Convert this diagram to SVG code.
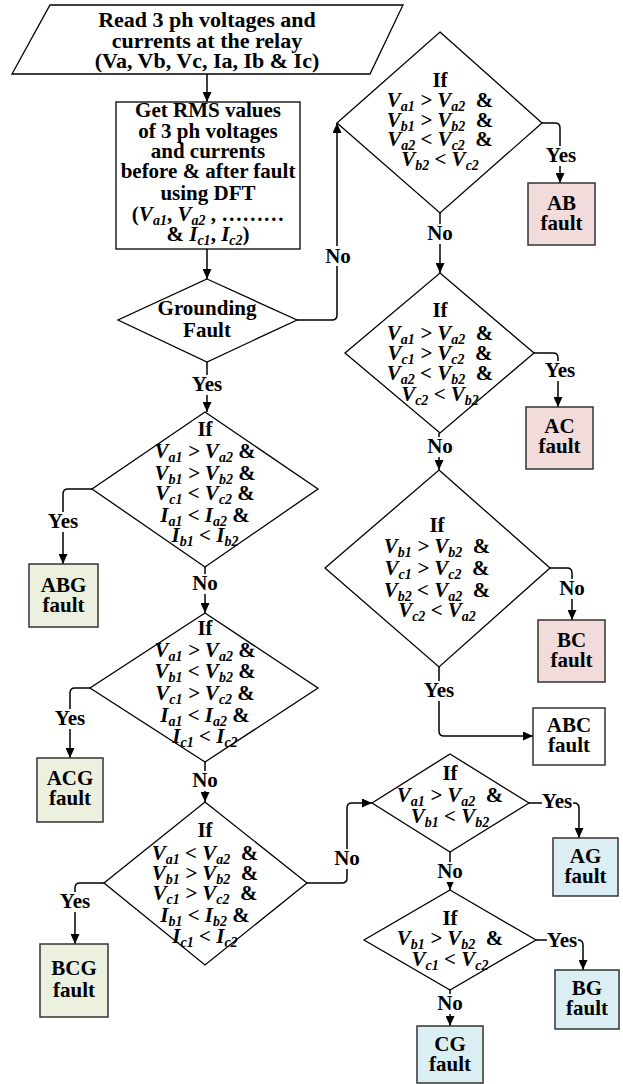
<svg xmlns="http://www.w3.org/2000/svg" width="623" height="1084" viewBox="0 0 623 1084">
<style>
.t{font-family:"Liberation Serif","Times New Roman",serif;font-weight:bold;font-size:21px;text-anchor:middle;fill:#000;white-space:pre}
.p{font-size:22px}
.c{font-style:italic}
.u{font-style:normal}
.s{font-size:14px}
.sh{fill:#fff;stroke:#000;stroke-width:1.3}
.fb{stroke:#333;stroke-width:1.5}
.pk{fill:#f2dcdb}.gr{fill:#ebf1de}.bl{fill:#dbeef4}.wh{fill:#fff}
.ln{fill:none;stroke:#000;stroke-width:1.5}
.lb{fill:#fff}
</style>
<defs>
<marker id="ah" markerUnits="userSpaceOnUse" markerWidth="10" markerHeight="9" refX="10" refY="4.5" orient="auto"><path d="M0,0 L10,4.5 L0,9 z" fill="#000"/></marker>
</defs>
<rect width="623" height="1084" fill="#fff"/>

<g id="connectors">
<path class="ln" marker-end="url(#ah)" d="M207,74 V102"/>
<path class="ln" marker-end="url(#ah)" d="M207,249 V279"/>
<path class="ln" marker-end="url(#ah)" d="M297,320 H332 Q337,320 337,315 V123"/>
<path class="ln" marker-end="url(#ah)" d="M542,123 H555 Q560,123 560,128 V183"/>
<path class="ln" marker-end="url(#ah)" d="M440,213 V273"/>
<path class="ln" marker-end="url(#ah)" d="M534,353 H553 Q558,353 558,358 V407"/>
<path class="ln" marker-end="url(#ah)" d="M439,433 V470"/>
<path class="ln" marker-end="url(#ah)" d="M550,568 H567 Q572,568 572,573 V620"/>
<path class="ln" marker-end="url(#ah)" d="M439,667 V731 Q439,736 444,736 H533"/>
<path class="ln" marker-end="url(#ah)" d="M207,362 V412"/>
<path class="ln" marker-end="url(#ah)" d="M92,489 H68 Q63,489 63,494 V564"/>
<path class="ln" marker-end="url(#ah)" d="M205,567 V613"/>
<path class="ln" marker-end="url(#ah)" d="M90,688 H75 Q70,688 70,693 V758"/>
<path class="ln" marker-end="url(#ah)" d="M205,762 V802"/>
<path class="ln" marker-end="url(#ah)" d="M104,883 H80 Q75,883 75,888 V944"/>
<path class="ln" marker-end="url(#ah)" d="M307,883 H342 Q347,883 347,878 V808 Q347,803 352,803 H372"/>
<path class="ln" marker-end="url(#ah)" d="M529,803 H574 Q579,803 579,808 V838"/>
<path class="ln" marker-end="url(#ah)" d="M450,852 V890"/>
<path class="ln" marker-end="url(#ah)" d="M536,940 H578 Q583,940 583,945 V970"/>
<path class="ln" marker-end="url(#ah)" d="M450,990 V1026"/>
</g>

<g id="labels">
<rect class="lb" x="325" y="246" width="26" height="20"/><text class="t" x="338" y="263">No</text>
<rect class="lb" x="546" y="146" width="30" height="20"/><text class="t" x="561" y="162">Yes</text>
<rect class="lb" x="427" y="224" width="26" height="20"/><text class="t" x="440" y="240">No</text>
<rect class="lb" x="544" y="361" width="30" height="20"/><text class="t" x="560" y="377">Yes</text>
<rect class="lb" x="426" y="437" width="26" height="20"/><text class="t" x="440" y="453">No</text>
<rect class="lb" x="559" y="579" width="26" height="20"/><text class="t" x="572" y="595">No</text>
<rect class="lb" x="424" y="681" width="30" height="20"/><text class="t" x="439" y="697">Yes</text>
<rect class="lb" x="192" y="375" width="30" height="20"/><text class="t" x="207" y="391">Yes</text>
<rect class="lb" x="48" y="512" width="30" height="20"/><text class="t" x="63" y="528">Yes</text>
<rect class="lb" x="192" y="574" width="26" height="20"/><text class="t" x="205" y="590">No</text>
<rect class="lb" x="55" y="709" width="30" height="20"/><text class="t" x="70" y="725">Yes</text>
<rect class="lb" x="192" y="771" width="26" height="20"/><text class="t" x="205" y="787">No</text>
<rect class="lb" x="60" y="892" width="30" height="20"/><text class="t" x="75" y="908">Yes</text>
<rect class="lb" x="334" y="849" width="26" height="20"/><text class="t" x="347" y="865">No</text>
<rect class="lb" x="542" y="793" width="31" height="20"/><text class="t" x="557" y="808">Yes</text>
<rect class="lb" x="437" y="862" width="26" height="20"/><text class="t" x="450" y="878">No</text>
<rect class="lb" x="547" y="930" width="31" height="20"/><text class="t" x="562" y="947">Yes</text>
<rect class="lb" x="437" y="994" width="26" height="20"/><text class="t" x="450" y="1010">No</text>
</g>

<g id="start">
<polygon class="sh" points="50,5 403,5 370,74 12,74"/>
<text class="t p" x="207" y="27">Read 3 ph voltages and</text>
<text class="t p" x="207" y="48">currents at the relay</text>
<text class="t p" x="207" y="68">(Va, Vb, Vc, Ia, Ib &amp; Ic)</text>
</g>

<g id="rms">
<rect class="sh" x="116" y="102" width="184" height="147"/>
<text class="t" x="208" y="117">Get RMS values</text>
<text class="t" x="208" y="138">of 3 ph voltages</text>
<text class="t" x="208" y="158">and currents</text>
<text class="t" x="208" y="178">before &amp; after fault</text>
<text class="t" x="208" y="200">using DFT</text>
<text class="t" x="208" y="221">(<tspan class="c">V</tspan><tspan class="c s" dy="4">a1</tspan><tspan dy="-4">, </tspan><tspan class="c">V</tspan><tspan class="c s" dy="4">a2</tspan><tspan dy="-4"> , ………</tspan></text>
<text class="t" x="208" y="241">&amp; <tspan class="c">I</tspan><tspan class="c s" dy="4">c1</tspan><tspan dy="-4">, </tspan><tspan class="c">I</tspan><tspan class="c s" dy="4">c2</tspan><tspan dy="-4">)</tspan></text>
</g>

<g id="grounding">
<polygon class="sh" points="207,279 297,320 207,362 118,320"/>
<text class="t" x="207" y="315">Grounding</text>
<text class="t" x="207" y="337">Fault</text>
</g>

<g id="d-ab">
<polygon class="sh" points="440,32 542,123 440,213 337,123"/>
<text class="t" x="440" y="87">If</text>
<text class="t c" x="440" y="107">V<tspan class="s" dy="4">a1</tspan><tspan dy="-4"> &gt; V</tspan><tspan class="s" dy="4">a2</tspan><tspan class="u" dy="-4">  &amp;</tspan></text>
<text class="t c" x="440" y="127">V<tspan class="s" dy="4">b1</tspan><tspan dy="-4"> &gt; V</tspan><tspan class="s" dy="4">b2</tspan><tspan class="u" dy="-4">  &amp;</tspan></text>
<text class="t c" x="440" y="146">V<tspan class="s" dy="4">a2</tspan><tspan dy="-4"> &lt; V</tspan><tspan class="s" dy="4">c2</tspan><tspan class="u" dy="-4">  &amp;</tspan></text>
<text class="t c" x="440" y="166">V<tspan class="s" dy="4">b2</tspan><tspan dy="-4"> &lt; V</tspan><tspan class="s" dy="4">c2</tspan></text>
</g>

<g id="d-ac">
<polygon class="sh" points="440,273 534,353 440,433 345,353"/>
<text class="t" x="440" y="317">If</text>
<text class="t c" x="440" y="340">V<tspan class="s" dy="4">a1</tspan><tspan dy="-4"> &gt; V</tspan><tspan class="s" dy="4">a2</tspan><tspan class="u" dy="-4">  &amp;</tspan></text>
<text class="t c" x="440" y="360">V<tspan class="s" dy="4">c1</tspan><tspan dy="-4"> &gt; V</tspan><tspan class="s" dy="4">c2</tspan><tspan class="u" dy="-4">  &amp;</tspan></text>
<text class="t c" x="440" y="380">V<tspan class="s" dy="4">a2</tspan><tspan dy="-4"> &lt; V</tspan><tspan class="s" dy="4">b2</tspan><tspan class="u" dy="-4">  &amp;</tspan></text>
<text class="t c" x="440" y="401">V<tspan class="s" dy="4">c2</tspan><tspan dy="-4"> &lt; V</tspan><tspan class="s" dy="4">b2</tspan></text>
</g>

<g id="d-bc">
<polygon class="sh" points="439,470 550,568 439,667 325,568"/>
<text class="t" x="437" y="532">If</text>
<text class="t c" x="437" y="553">V<tspan class="s" dy="4">b1</tspan><tspan dy="-4"> &gt; V</tspan><tspan class="s" dy="4">b2</tspan><tspan class="u" dy="-4">  &amp;</tspan></text>
<text class="t c" x="437" y="575">V<tspan class="s" dy="4">c1</tspan><tspan dy="-4"> &gt; V</tspan><tspan class="s" dy="4">c2</tspan><tspan class="u" dy="-4">  &amp;</tspan></text>
<text class="t c" x="437" y="597">V<tspan class="s" dy="4">b2</tspan><tspan dy="-4"> &lt; V</tspan><tspan class="s" dy="4">a2</tspan><tspan class="u" dy="-4">  &amp;</tspan></text>
<text class="t c" x="437" y="617">V<tspan class="s" dy="4">c2</tspan><tspan dy="-4"> &lt; V</tspan><tspan class="s" dy="4">a2</tspan></text>
</g>

<g id="d-abg">
<polygon class="sh" points="205,412 318,489 205,567 92,489"/>
<text class="t" x="205" y="436">If</text>
<text class="t c" x="205" y="458">V<tspan class="s" dy="4">a1</tspan><tspan dy="-4"> &gt; V</tspan><tspan class="s" dy="4">a2</tspan><tspan class="u" dy="-4"> &amp;</tspan></text>
<text class="t c" x="205" y="480">V<tspan class="s" dy="4">b1</tspan><tspan dy="-4"> &gt; V</tspan><tspan class="s" dy="4">b2</tspan><tspan class="u" dy="-4"> &amp;</tspan></text>
<text class="t c" x="205" y="500">V<tspan class="s" dy="4">c1</tspan><tspan dy="-4"> &lt; V</tspan><tspan class="s" dy="4">c2</tspan><tspan class="u" dy="-4"> &amp;</tspan></text>
<text class="t c" x="205" y="522">I<tspan class="s" dy="4">a1</tspan><tspan dy="-4"> &lt; I</tspan><tspan class="s" dy="4">a2</tspan><tspan class="u" dy="-4"> &amp;</tspan></text>
<text class="t c" x="205" y="542">I<tspan class="s" dy="4">b1</tspan><tspan dy="-4"> &lt; I</tspan><tspan class="s" dy="4">b2</tspan></text>
</g>

<g id="d-acg">
<polygon class="sh" points="205,613 318,688 205,762 90,688"/>
<text class="t" x="205" y="635">If</text>
<text class="t c" x="205" y="657">V<tspan class="s" dy="4">a1</tspan><tspan dy="-4"> &gt; V</tspan><tspan class="s" dy="4">a2</tspan><tspan class="u" dy="-4"> &amp;</tspan></text>
<text class="t c" x="205" y="678">V<tspan class="s" dy="4">b1</tspan><tspan dy="-4"> &lt; V</tspan><tspan class="s" dy="4">b2</tspan><tspan class="u" dy="-4"> &amp;</tspan></text>
<text class="t c" x="205" y="700">V<tspan class="s" dy="4">c1</tspan><tspan dy="-4"> &gt; V</tspan><tspan class="s" dy="4">c2</tspan><tspan class="u" dy="-4"> &amp;</tspan></text>
<text class="t c" x="205" y="722">I<tspan class="s" dy="4">a1</tspan><tspan dy="-4"> &lt; I</tspan><tspan class="s" dy="4">a2</tspan><tspan class="u" dy="-4"> &amp;</tspan></text>
<text class="t c" x="205" y="743">I<tspan class="s" dy="4">c1</tspan><tspan dy="-4"> &lt; I</tspan><tspan class="s" dy="4">c2</tspan></text>
</g>

<g id="d-bcg">
<polygon class="sh" points="205,802 307,883 205,965 104,883"/>
<text class="t" x="205" y="837">If</text>
<text class="t c" x="205" y="860">V<tspan class="s" dy="4">a1</tspan><tspan dy="-4"> &lt; V</tspan><tspan class="s" dy="4">a2</tspan><tspan class="u" dy="-4">  &amp;</tspan></text>
<text class="t c" x="205" y="880">V<tspan class="s" dy="4">b1</tspan><tspan dy="-4"> &gt; V</tspan><tspan class="s" dy="4">b2</tspan><tspan class="u" dy="-4">  &amp;</tspan></text>
<text class="t c" x="205" y="900">V<tspan class="s" dy="4">c1</tspan><tspan dy="-4"> &gt; V</tspan><tspan class="s" dy="4">c2</tspan><tspan class="u" dy="-4">  &amp;</tspan></text>
<text class="t c" x="205" y="922">I<tspan class="s" dy="4">b1</tspan><tspan dy="-4"> &lt; I</tspan><tspan class="s" dy="4">b2</tspan><tspan class="u" dy="-4"> &amp;</tspan></text>
<text class="t c" x="205" y="943">I<tspan class="s" dy="4">c1</tspan><tspan dy="-4"> &lt; I</tspan><tspan class="s" dy="4">c2</tspan></text>
</g>

<g id="d-ag">
<polygon class="sh" points="450,754 529,803 450,852 372,803"/>
<text class="t" x="450" y="780">If</text>
<text class="t c" x="450" y="802">V<tspan class="s" dy="4">a1</tspan><tspan dy="-4"> &gt; V</tspan><tspan class="s" dy="4">a2</tspan><tspan class="u" dy="-4">  &amp;</tspan></text>
<text class="t c" x="450" y="823">V<tspan class="s" dy="4">b1</tspan><tspan dy="-4"> &lt; V</tspan><tspan class="s" dy="4">b2</tspan></text>
</g>

<g id="d-bg">
<polygon class="sh" points="450,890 536,940 450,990 364,940"/>
<text class="t" x="450" y="925">If</text>
<text class="t c" x="450" y="945">V<tspan class="s" dy="4">b1</tspan><tspan dy="-4"> &gt; V</tspan><tspan class="s" dy="4">b2</tspan><tspan class="u" dy="-4">  &amp;</tspan></text>
<text class="t c" x="450" y="966">V<tspan class="s" dy="4">c1</tspan><tspan dy="-4"> &lt; V</tspan><tspan class="s" dy="4">c2</tspan></text>
</g>

<g id="f-ab"><rect class="fb pk" x="528" y="183" width="67" height="62"/><text class="t" x="561.5" y="210">AB</text><text class="t" x="561.5" y="230">fault</text></g>
<g id="f-ac"><rect class="fb pk" x="526" y="407" width="67" height="62"/><text class="t" x="559.5" y="433">AC</text><text class="t" x="559.5" y="453">fault</text></g>
<g id="f-bc"><rect class="fb pk" x="538" y="620" width="67" height="62"/><text class="t" x="571.5" y="647">BC</text><text class="t" x="571.5" y="667">fault</text></g>
<g id="f-abc"><rect class="fb wh" x="533" y="708" width="72" height="57"/><text class="t" x="569" y="732">ABC</text><text class="t" x="569" y="752">fault</text></g>
<g id="f-abg"><rect class="fb gr" x="29" y="564" width="69" height="63"/><text class="t" x="63.5" y="592">ABG</text><text class="t" x="63.5" y="612">fault</text></g>
<g id="f-acg"><rect class="fb gr" x="37" y="758" width="66" height="64"/><text class="t" x="70" y="785">ACG</text><text class="t" x="70" y="805">fault</text></g>
<g id="f-bcg"><rect class="fb gr" x="40" y="944" width="68" height="73"/><text class="t" x="74" y="975">BCG</text><text class="t" x="74" y="997">fault</text></g>
<g id="f-ag"><rect class="fb bl" x="553" y="838" width="65" height="58"/><text class="t" x="585.5" y="863">AG</text><text class="t" x="585.5" y="883">fault</text></g>
<g id="f-bg"><rect class="fb bl" x="555" y="970" width="64" height="59"/><text class="t" x="587" y="995">BG</text><text class="t" x="587" y="1015">fault</text></g>
<g id="f-cg"><rect class="fb bl" x="417" y="1026" width="66" height="57"/><text class="t" x="450" y="1051">CG</text><text class="t" x="450" y="1071">fault</text></g>
</svg>
